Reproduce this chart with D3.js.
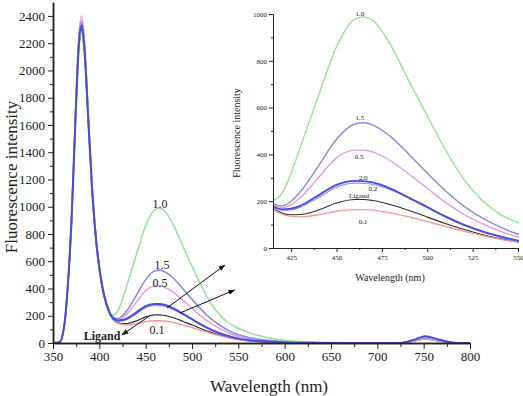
<!DOCTYPE html>
<html>
<head>
<meta charset="utf-8">
<script src="https://cdnjs.cloudflare.com/ajax/libs/d3/7.8.5/d3.min.js"></script>
<style>
  body { margin: 0; background: #fff; }
  svg { display: block; }
  text { font-family: "Liberation Serif", "Times New Roman", serif; fill: #222; }
  .axis path, .axis line { stroke: #222; }
</style>
</head>
<body>
<script>
// wavelengths (nm) shared by every spectrum
var wavelength = [350,357,362,366,370,374,378,381,384,388,392,397,403,410,
                  415,420,425,430,440,450,460,465,470,480,490,500,510,520,530,540,550,560,575,600,625,650,700,725,740,752,765,785,800];

// fluorescence intensity per ratio
var ligand = [0,5,118,415,888,1580,2172,2300,2122,1629,1135,711,415,235,
              172,150,142,143,162,192,207,207,203,185,160,132,105,80,58,40,26,17,9,3,1,0,0,0,15,30,16,0,0];
var c01 = [0,5,119,418,896,1593,2190,2320,2140,1643,1145,717,418,238,
           168,145,135,133,142,157,164,164,162,150,133,113,92,72,54,38,25,16,8,2,1,0,0,0,15,30,16,0,0];
var c02 = [0,5,120,422,904,1607,2210,2340,2160,1657,1155,723,422,240,
           178,162,163,175,215,260,277,276,272,248,212,172,132,98,70,48,30,20,11,3,1,0,0,0,22,44,24,0,0];
var c05 = [0,5,124,432,927,1648,2266,2400,2215,1700,1185,742,433,247,
           185,172,185,215,300,385,418,418,410,372,315,255,195,145,105,72,48,33,18,7,2,0,0,0,20,40,20,0,0];
var c10 = [0,5,117,411,880,1565,2153,2280,2104,1615,1125,705,411,245,
           205,235,320,430,650,860,978,988,972,865,712,565,420,295,205,145,108,80,50,20,8,3,0,0,22,45,25,0,0];
var c15 = [0,5,122,425,912,1620,2228,2360,2178,1671,1165,730,425,244,
           190,180,200,240,350,465,530,535,525,475,400,320,245,180,130,90,60,42,25,10,4,1,0,0,20,42,22,0,0];
var c20 = [0,5,120,420,900,1600,2200,2330,2150,1650,1150,720,420,240,
           180,165,168,180,225,270,287,286,280,253,215,175,135,100,72,50,32,22,12,4,1,0,0,0,25,50,28,0,0];

var names  = ["Ligand","0.1","0.5","1.5","0.2","1.0","2.0"];
var values = [ligand, c01, c05, c15, c02, c10, c20];
var colors = ["#2e2e2e","#f09a9a","#e59ae8","#8c8cdc","#9a9af0","#8fe68f","#4a4adc"];
var widths = [1.2, 1.5, 1.5, 1.6, 1.5, 1.5, 2];

// tick values
var mainXTicks = d3.range(350, 801, 50);
var mainXMinor = d3.range(375, 800, 50);
var mainYTicks = d3.range(0, 2401, 200);
var mainYMinor = d3.range(100, 2500, 200);
var insetXTicks = d3.range(425, 551, 25);
var insetXMinor = d3.range(437.5, 550, 25);
var insetYTicks = d3.range(0, 1001, 200);
var insetYMinor = d3.range(100, 1000, 200);

// annotation labels (data units)
var mainLabels = [{t:"1.0",x:465.4,y:1020},{t:"1.5",x:467.6,y:572},{t:"0.5",x:465.4,y:440},
                  {t:"0.1",x:462.2,y:95},{t:"Ligand",x:402.9,y:51,b:true}];
var insetLabels = [{t:"1.0",x:462.9,y:1004},{t:"1.5",x:462.9,y:556},{t:"0.5",x:462.4,y:389},
                   {t:"2.0",x:464.6,y:299},{t:"0.2",x:470.1,y:256},{t:"Ligand",x:462.4,y:226},{t:"0.1",x:464.6,y:111}];
var arrows = [{x1:473,y1:257,x2:535.5,y2:572},{x1:487,y1:220,x2:546,y2:389},{x1:452.5,y1:191,x2:424.4,y2:59}];

var serif = "Liberation Serif, Times New Roman, serif";
var fmt = d3.format("d");

var svg = d3.select("body").append("svg").attr("width", 523).attr("height", 396);

svg.append("defs").append("marker")
   .attr("id","head").attr("viewBox","0 0 10 10").attr("refX",9).attr("refY",5)
   .attr("markerWidth",7).attr("markerHeight",7).attr("orient","auto")
   .append("path").attr("d","M0,1.5 L10,5 L0,8.5 Z").attr("fill","#111");

svg.select("defs").append("clipPath").attr("id","insetClip")
   .append("rect").attr("x",273).attr("y",0).attr("width",246).attr("height",249);

//---------------- main chart ----------------
var x = d3.scaleLinear().domain([350, 800]).range([53, 470]);
var y = d3.scaleLinear().domain([0, 2500]).range([343, 2.3]);

var line = d3.line()
             .x(function(d){ return x(d[0]); })
             .y(function(d){ return y(d[1]); })
             .curve(d3.curveMonotoneX);

var main = svg.append("g");
values.forEach(function(v, i){
  main.append("path")
      .attr("d", line(d3.zip(wavelength, v)))
      .attr("fill","none").attr("stroke", colors[i]).attr("stroke-width", widths[i])
      .attr("stroke-linejoin","round");
});

main.append("g").attr("class","axis").attr("transform","translate(0,343)")
    .call(d3.axisBottom(x).tickValues(mainXMinor).tickSize(4).tickFormat("").tickSizeOuter(0));
main.append("g").attr("class","axis").attr("transform","translate(0,343)")
    .call(d3.axisBottom(x).tickValues(mainXTicks).tickSize(6).tickPadding(3).tickFormat(fmt).tickSizeOuter(0))
    .attr("font-family", serif).attr("font-size", 13);
main.append("g").attr("class","axis").attr("transform","translate(53,0)")
    .call(d3.axisLeft(y).tickValues(mainYMinor).tickSize(3).tickFormat("").tickSizeOuter(0));
main.append("g").attr("class","axis").attr("transform","translate(53,0)")
    .call(d3.axisLeft(y).tickValues(mainYTicks).tickSize(5).tickPadding(3).tickFormat(fmt).tickSizeOuter(0))
    .attr("font-family", serif).attr("font-size", 13);
main.selectAll(".axis path").attr("stroke-width",1.5);

main.append("text").attr("transform","translate(17,177) rotate(-90)")
    .attr("text-anchor","middle").style("font-size","17px").text("Fluorescence intensity");
main.append("text").attr("x",269).attr("y",392)
    .attr("text-anchor","middle").style("font-size","17px").text("Wavelength (nm)");

mainLabels.forEach(function(d){
  main.append("text").attr("x", x(d.x)).attr("y", y(d.y)).attr("dy","0.35em")
      .attr("text-anchor","middle").style("font-size","12px")
      .style("font-weight", d.b ? "bold" : "normal").text(d.t);
});

arrows.forEach(function(a){
  main.append("line").attr("x1",x(a.x1)).attr("y1",y(a.y1)).attr("x2",x(a.x2)).attr("y2",y(a.y2))
      .attr("stroke","#111").attr("stroke-width",1).attr("marker-end","url(#head)");
});

//---------------- inset ----------------
var xi = d3.scaleLinear().domain([415, 550]).range([273, 518]);
var yi = d3.scaleLinear().domain([0, 1000]).range([248, 14]);

var lineInset = d3.line()
                  .x(function(d){ return xi(d[0]); })
                  .y(function(d){ return yi(d[1]); })
                  .curve(d3.curveMonotoneX);

var inset = svg.append("g");
var insetLines = inset.append("g").attr("clip-path","url(#insetClip)");
values.forEach(function(v, i){
  insetLines.append("path")
      .attr("d", lineInset(d3.zip(wavelength, v).filter(function(d){ return d[0] >= 410 && d[0] <= 560; })))
      .attr("fill","none").attr("stroke", colors[i]).attr("stroke-width", widths[i] * 0.9);
});

inset.append("g").attr("class","axis").attr("transform","translate(0,248)")
     .call(d3.axisBottom(xi).tickValues(insetXMinor).tickSize(2).tickFormat("").tickSizeOuter(0));
inset.append("g").attr("class","axis").attr("transform","translate(0,248)")
     .call(d3.axisBottom(xi).tickValues(insetXTicks).tickSize(4).tickPadding(3).tickFormat(fmt).tickSizeOuter(0))
     .attr("font-family", serif).attr("font-size", 7);
inset.append("g").attr("class","axis").attr("transform","translate(273,0)")
     .call(d3.axisLeft(yi).tickValues(insetYMinor).tickSize(2).tickFormat("").tickSizeOuter(0));
inset.append("g").attr("class","axis").attr("transform","translate(273,0)")
     .call(d3.axisLeft(yi).tickValues(insetYTicks).tickSize(4).tickPadding(2).tickFormat(fmt).tickSizeOuter(0))
     .attr("font-family", serif).attr("font-size", 7);

inset.append("text").attr("transform","translate(240,133) rotate(-90)")
     .attr("text-anchor","middle").style("font-size","10px").text("Fluorescence intensity");
inset.append("text").attr("x",390).attr("y",281)
     .attr("text-anchor","middle").style("font-size","10px").text("Wavelength (nm)");

insetLabels.forEach(function(d){
  inset.append("text").attr("x", xi(d.x)).attr("y", yi(d.y)).attr("dy","0.35em")
       .attr("text-anchor","middle").style("font-size","7px").text(d.t);
});
</script>
</body>
</html>
